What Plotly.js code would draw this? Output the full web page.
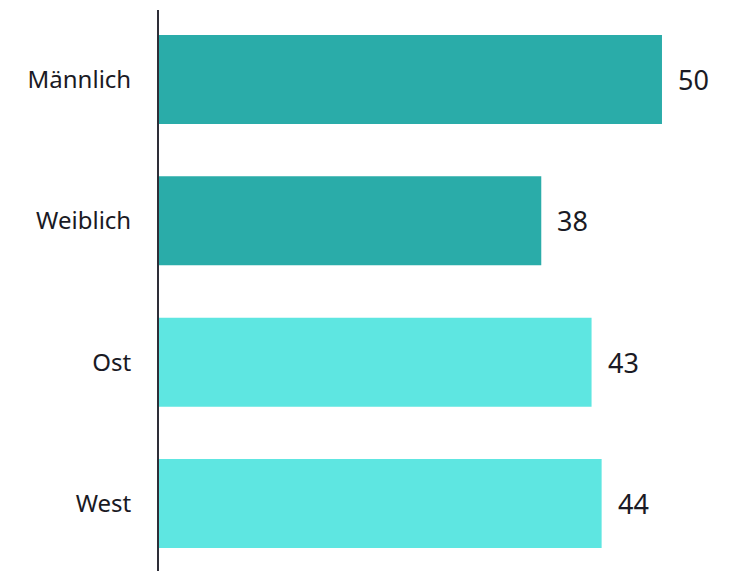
<!DOCTYPE html>
<html><head><meta charset="utf-8">
<script src="https://cdn.plot.ly/plotly-3.0.1.min.js"></script>
<style>html,body{margin:0;padding:0;background:#fff}</style>
</head><body>
<div id="chart" style="width:733px;height:571px"></div>
<script>
const categories = ["Männlich", "Weiblich", "Ost", "West"];
const values = [50, 38, 43, 44];
const barColors = ["#2aaca9", "#2aaca9", "#5ee6e1", "#5ee6e1"];
const valueLabels = ["50", "38", "43", "44"];

const fontFam = "Noto Sans, Open Sans, sans-serif";
const trace = {
  type: "bar", orientation: "h",
  y: categories, x: values,
  marker: {color: barColors},
  hoverinfo: "none"
};
const annotations = categories.map((c, i) => ({
  x: values[i], y: c, xref: "x", yref: "y",
  text: valueLabels[i], showarrow: false,
  xanchor: "left", yanchor: "middle", xshift: 14,
  font: {family: fontFam, size: 27, color: "#1a1a24"}
}));
const layout = {
  width: 733, height: 571,
  margin: {l: 159, r: 1, t: 10, b: 0},
  paper_bgcolor: "#fff", plot_bgcolor: "#fff",
  bargap: 0.37,
  showlegend: false,
  xaxis: {range: [0, 56.96], showgrid: false, zeroline: false, showticklabels: false, showline: false, fixedrange: true},
  yaxis: {range: [3.478, -0.492], showgrid: false, zeroline: false, showline: true, linecolor: "#2e2e38", linewidth: 2,
          ticks: "", ticklabelstandoff: 21,
          tickfont: {family: fontFam, size: 24, color: "#1a1a24"}, fixedrange: true},
  annotations: annotations
};
Plotly.newPlot("chart", [trace], layout, {displayModeBar: false, staticPlot: true});
</script>
</body></html>
